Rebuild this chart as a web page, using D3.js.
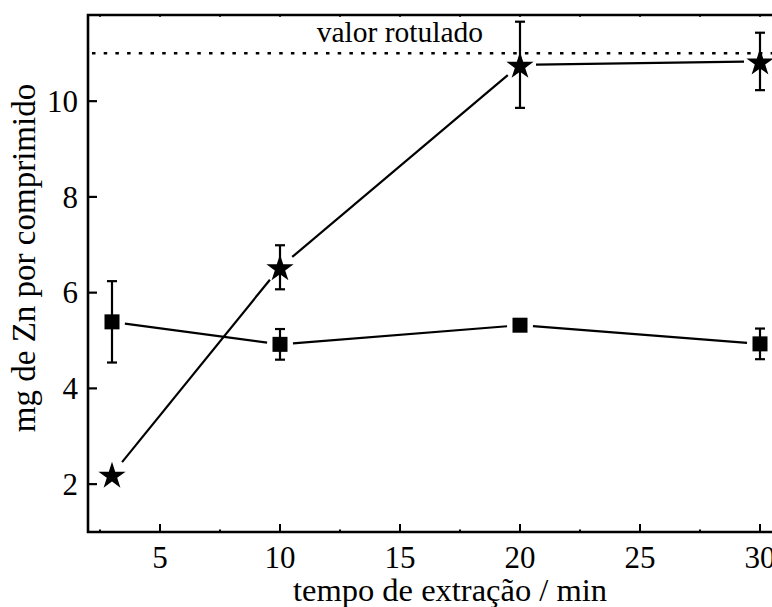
<!DOCTYPE html>
<html>
<head>
<meta charset="utf-8">
<script src="https://cdn.jsdelivr.net/npm/d3@7"></script>
<style>
  html, body { margin: 0; padding: 0; background: #fff; }
  svg { display: block; }
  text { font-family: "Liberation Serif", "Times New Roman", serif; fill: #000; }
</style>
</head>
<body>
<svg id="chart" width="772" height="607"></svg>
<script>
// Extraction time (min) and mg of Zn per tablet for the two procedures
const times = [3, 10, 20, 30];
const starValues = [2.2, 6.53, 10.76, 10.83];
const starErrors = [0, 0.46, 0.9, 0.6];
const squareValues = [5.39, 4.92, 5.32, 4.93];
const squareErrors = [0.85, 0.32, 0, 0.32];
const labeledValue = 11;
const xTicks = [5, 10, 15, 20, 25, 30];
const yTicks = [2, 4, 6, 8, 10];
const xLabel = "tempo de extração / min";
const yLabel = "mg de Zn por comprimido";
const refLabel = "valor rotulado";

const svg = d3.select("#chart");
const plotLeft = 88, plotRight = 808, plotTop = 15, plotBottom = 532;

const x = d3.scaleLinear().domain([2, 32]).range([plotLeft, plotRight]);
const y = d3.scaleLinear().domain([1, 11.8]).range([plotBottom, plotTop]);

const ink = "#000";

// reference (labelled) value
svg.append("line")
  .attr("x1", plotLeft + 4).attr("x2", plotRight)
  .attr("y1", y(labeledValue)).attr("y2", y(labeledValue))
  .attr("stroke", ink).attr("stroke-width", 2.6)
  .attr("stroke-dasharray", "3.5 8.2");

svg.append("text")
  .attr("x", 483).attr("y", 42)
  .attr("text-anchor", "end")
  .attr("font-size", 29.5)
  .text(refLabel);

// bottom axis with major ticks every 5 and minor ticks between
const minorX = d3.range(2.5, 32, 2.5);
const gx = svg.append("g").attr("transform", `translate(0,${plotBottom})`);
gx.selectAll("line.minor").data(minorX).join("line")
  .attr("class", "minor")
  .attr("x1", d => x(d)).attr("x2", d => x(d))
  .attr("y1", 0).attr("y2", d => (d % 5 === 0 ? -8 : -2.5))
  .attr("stroke", ink).attr("stroke-width", 2);
gx.selectAll("text").data(xTicks).join("text")
  .attr("x", d => x(d)).attr("y", 36)
  .attr("text-anchor", "middle")
  .attr("font-size", 31)
  .text(d => d);

// top axis (small ticks only)
svg.selectAll("line.topminor").data(minorX).join("line")
  .attr("class", "topminor")
  .attr("x1", d => x(d)).attr("x2", d => x(d))
  .attr("y1", plotTop).attr("y2", plotTop + 2)
  .attr("stroke", ink).attr("stroke-width", 1.5);

// left axis
const gy = svg.append("g");
gy.selectAll("line").data(yTicks).join("line")
  .attr("x1", plotLeft).attr("x2", plotLeft + 9)
  .attr("y1", d => y(d)).attr("y2", d => y(d))
  .attr("stroke", ink).attr("stroke-width", 2.2);
gy.selectAll("text").data(yTicks).join("text")
  .attr("x", plotLeft - 10).attr("y", d => y(d))
  .attr("dy", "0.35em")
  .attr("text-anchor", "end")
  .attr("font-size", 31)
  .text(d => d);

// frame
svg.append("path")
  .attr("d", `M${plotRight},${plotTop}H${plotLeft}V${plotBottom}H${plotRight}`)
  .attr("fill", "none").attr("stroke", ink).attr("stroke-width", 2.6);

// axis titles
svg.append("text")
  .attr("x", 450).attr("y", 601)
  .attr("text-anchor", "middle")
  .attr("font-size", 32.5)
  .text(xLabel);

svg.append("text")
  .attr("transform", `translate(35,${258}) rotate(-90)`)
  .attr("text-anchor", "middle")
  .attr("font-size", 33)
  .text(yLabel);

// connecting segments stop short of the markers
function drawSeries(values, gap) {
  const pts = times.map((t, i) => [x(t), y(values[i])]);
  const segs = d3.pairs(pts).map(([a, b]) => {
    const dx = b[0] - a[0], dy = b[1] - a[1];
    const len = Math.hypot(dx, dy);
    const ux = dx / len, uy = dy / len;
    return [a[0] + ux * gap, a[1] + uy * gap, b[0] - ux * gap, b[1] - uy * gap];
  });
  svg.append("g").selectAll("line").data(segs).join("line")
    .attr("x1", d => d[0]).attr("y1", d => d[1])
    .attr("x2", d => d[2]).attr("y2", d => d[3])
    .attr("stroke", ink).attr("stroke-width", 2.2);
}

function drawErrors(values, errors) {
  const data = times.map((t, i) => ({ t, v: values[i], e: errors[i] })).filter(d => d.e > 0);
  const g = svg.append("g").attr("stroke", ink).attr("stroke-width", 2.2);
  g.selectAll("line.bar").data(data).join("line")
    .attr("class", "bar")
    .attr("x1", d => x(d.t)).attr("x2", d => x(d.t))
    .attr("y1", d => y(d.v - d.e)).attr("y2", d => y(d.v + d.e));
  g.selectAll("line.capHi").data(data).join("line")
    .attr("class", "capHi")
    .attr("x1", d => x(d.t) - 5).attr("x2", d => x(d.t) + 5)
    .attr("y1", d => y(d.v + d.e)).attr("y2", d => y(d.v + d.e));
  g.selectAll("line.capLo").data(data).join("line")
    .attr("class", "capLo")
    .attr("x1", d => x(d.t) - 5).attr("x2", d => x(d.t) + 5)
    .attr("y1", d => y(d.v - d.e)).attr("y2", d => y(d.v - d.e));
}

drawSeries(squareValues, 13);
drawSeries(starValues, 16);
drawErrors(squareValues, squareErrors);
drawErrors(starValues, starErrors);

// square markers
svg.append("g").selectAll("rect").data(times).join("rect")
  .attr("x", (d) => x(d) - 7.5)
  .attr("y", (d, i) => y(squareValues[i]) - 7.5)
  .attr("width", 15).attr("height", 15)
  .attr("fill", ink);

// star markers
const star = d3.symbol().type(d3.symbolStar).size(230);
svg.append("g").selectAll("path").data(times).join("path")
  .attr("transform", (d, i) => `translate(${x(d)},${y(starValues[i]) + 1.5})`)
  .attr("d", star)
  .attr("fill", ink);
</script>
</body>
</html>
